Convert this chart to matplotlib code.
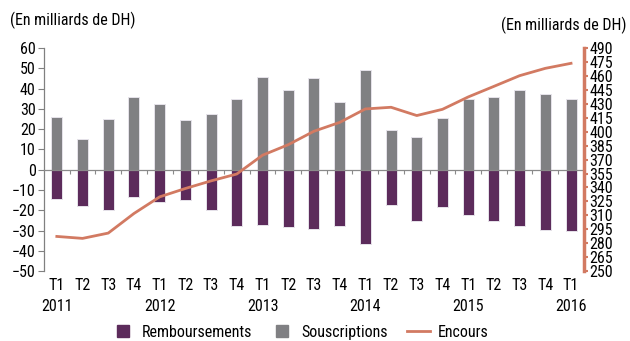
import numpy as np
import matplotlib
matplotlib.use("Agg")
import matplotlib.pyplot as plt
from matplotlib.lines import Line2D

plt.rcParams['font.family'] = ['Roboto Condensed', 'Liberation Sans Narrow', 'Liberation Sans', 'DejaVu Sans']

quarters = ['T1', 'T2', 'T3', 'T4'] * 5 + ['T1']
years = {0: '2011', 4: '2012', 8: '2013', 12: '2014', 16: '2015', 20: '2016'}

souscriptions = [26.1, 15.4, 24.8, 36.1, 32.4, 24.3, 27.4, 35.0, 45.7, 39.4, 45.1,
                 33.5, 49.4, 19.4, 16.1, 25.5, 35.0, 35.8, 39.4, 37.3, 34.8]
remboursements = [-14.6, -17.7, -19.7, -13.6, -16.1, -14.9, -20.0, -27.7, -27.1, -28.1, -29.2,
                  -27.9, -36.5, -17.6, -25.1, -18.4, -22.3, -25.5, -27.9, -29.9, -30.0]
encours = [287.3, 285.2, 290.9, 312.0, 329.9, 338.9, 347.1, 354.5, 374.7, 386.0, 400.5,
           410.0, 424.5, 426.3, 417.4, 424.1, 437.4, 448.8, 460.3, 468.2, 473.6]

purple = '#5c2b5b'
grey = '#808083'
orange = '#d27a62'
fs = 11.5

fig = plt.figure(figsize=(6.3, 3.41), dpi=100)
ax = fig.add_axes([0.0698, 0.205, 0.857, 0.654])
ax2 = ax.twinx()

x = np.arange(len(quarters))
w = 0.43
ax.bar(x, souscriptions, w, color=grey, edgecolor='#e6e3ea', linewidth=0.7, zorder=2)
ax.bar(x, remboursements, w, color=purple, edgecolor='#e6e3ea', linewidth=0.7, zorder=2)

ax.set_xlim(-0.5, len(x) - 0.5)
ax.set_ylim(-50, 60)
ax.set_yticks(range(-50, 61, 10))
ax.tick_params(axis='y', direction='out', length=4, width=0.8, color='#808080',
               labelsize=fs, pad=2)

# x axis sits on zero, ticks between quarters
ax.spines['bottom'].set_position(('data', 0))
ax.spines['bottom'].set_color('#8a8a8a')
ax.spines['bottom'].set_linewidth(0.9)
ax.set_xticks(x[:-1] + 0.5)
ax.tick_params(axis='x', direction='out', length=3, width=0.8, color='#8a8a8a',
               labelbottom=False)
ax.spines['top'].set_visible(False)
ax.spines['right'].set_visible(False)
ax.spines['left'].set_color('#808080')
ax.spines['left'].set_linewidth(0.9)

trans = ax.get_xaxis_transform()
for i, q in enumerate(quarters):
    ax.text(i, -0.065, q, transform=trans, ha='center', va='center', fontsize=fs)
for i, yr in years.items():
    ax.text(i, -0.16, yr, transform=trans, ha='center', va='center', fontsize=fs)

ax2.plot(x, encours, color=orange, linewidth=2, zorder=3)
ax2.set_ylim(250, 490)
ax2.set_yticks(range(250, 491, 15))
ax2.tick_params(axis='y', direction='out', length=3, width=1.5, color=orange,
                labelsize=fs, pad=1)
for s in ['top', 'left', 'bottom']:
    ax2.spines[s].set_visible(False)
ax2.spines['right'].set_color(orange)
ax2.spines['right'].set_linewidth(2.5)

fig.text(0.016, 0.94, '(En milliards de DH)', fontsize=fs, va='center', ha='left')
fig.text(0.994, 0.925, '(En milliards de DH)', fontsize=fs, va='center', ha='right')

handles = [Line2D([], [], marker='s', linestyle='none', markersize=9, color=purple),
           Line2D([], [], marker='s', linestyle='none', markersize=9, color=grey),
           Line2D([], [], color=orange, linewidth=2)]
fig.legend(handles, ['Remboursements', 'Souscriptions', 'Encours'], loc='center',
           bbox_to_anchor=(0.476, 0.025), ncol=3, frameon=False, fontsize=fs,
           handlelength=1.4, columnspacing=1.2, handletextpad=0.5)

fig.savefig('out.png', dpi=100)
